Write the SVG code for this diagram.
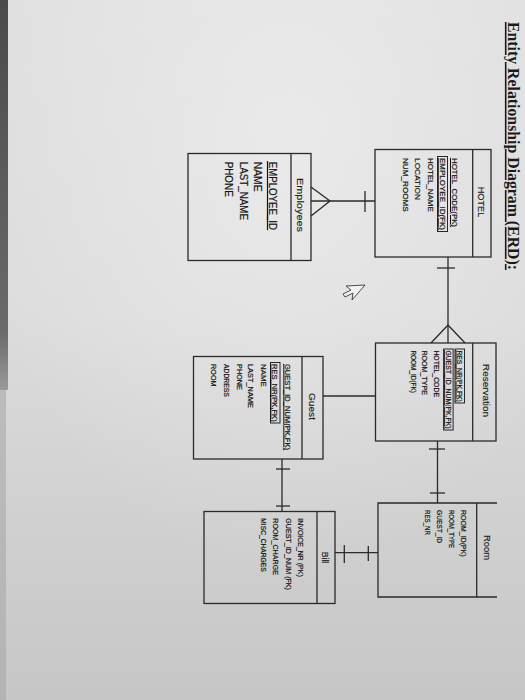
<svg xmlns="http://www.w3.org/2000/svg" width="525" height="700" viewBox="0 0 525 700">
<defs>
<linearGradient id="bg" x1="0" y1="0" x2="0" y2="1">
<stop offset="0" stop-color="#e0e0e0"/>
<stop offset="0.45" stop-color="#dcdcdc"/>
<stop offset="1" stop-color="#c6c6c6"/>
</linearGradient>
<radialGradient id="hl" cx="0.55" cy="0.22" r="0.6">
<stop offset="0" stop-color="#ffffff" stop-opacity="0.35"/>
<stop offset="1" stop-color="#ffffff" stop-opacity="0"/>
</radialGradient>
<linearGradient id="bezel" x1="0" y1="0" x2="0" y2="1">
<stop offset="0" stop-color="#4a4a4a"/>
<stop offset="0.85" stop-color="#6a6a6a"/>
<stop offset="1" stop-color="#9a9a9a"/>
</linearGradient>
<style>
.box{fill:none;stroke:#2a2a2a;stroke-width:1.3}
.ln{fill:none;stroke:#2a2a2a;stroke-width:1.3}
.hd{font-family:"Liberation Sans","Open Sans",sans-serif;fill:#1e1e1e;stroke:#1e1e1e;stroke-width:0.15;text-anchor:middle}
.at{font-family:"Liberation Sans","Open Sans",sans-serif;fill:#141414;stroke:#141414;stroke-width:0.2}
.hlb{fill:none;stroke:#262626;stroke-width:1}
.ttl{font-family:"Liberation Serif",serif;font-weight:bold;fill:#1a1a1a;text-decoration:underline}
</style>
</defs>
<rect x="0" y="0" width="525" height="700" fill="url(#bg)"/>
<rect x="0" y="0" width="525" height="700" fill="url(#hl)"/>
<rect x="0" y="0" width="8" height="390" fill="url(#bezel)"/>
<rect x="0" y="390" width="6" height="310" fill="#a8a8a8" opacity="0.6"/>

<text class="ttl" font-size="16" transform="translate(507.5,22) rotate(90)" textLength="248" lengthAdjust="spacingAndGlyphs">Entity Relationship Diagram (ERD):</text>

<g id="connectors">
<line class="ln" x1="311" y1="201" x2="375" y2="201"/>
<polyline class="ln" points="311,187 330,201 311,216"/>
<line class="ln" x1="365" y1="191" x2="365" y2="212"/>
<line class="ln" x1="448" y1="257" x2="448" y2="343"/>
<line class="ln" x1="437" y1="268" x2="455" y2="268"/>
<polyline class="ln" points="431,343 448,325 465,343"/>
<line class="ln" x1="437.5" y1="441" x2="437.5" y2="503"/>
<line class="ln" x1="429" y1="449" x2="445" y2="449"/>
<line class="ln" x1="430" y1="493" x2="445" y2="493"/>
<line class="ln" x1="323" y1="396" x2="375.5" y2="396"/>
<line class="ln" x1="282" y1="459" x2="282" y2="511.5"/>
<line class="ln" x1="276" y1="469" x2="290" y2="469"/>
<line class="ln" x1="276" y1="506" x2="290" y2="506"/>
<line class="ln" x1="335" y1="552.7" x2="378" y2="552.7"/>
<line class="ln" x1="344.3" y1="545" x2="344.3" y2="563"/>
<line class="ln" x1="368.3" y1="546" x2="368.3" y2="561"/>
</g>

<g id="hotel">
<rect class="box" x="375" y="149.5" width="116" height="107.5"/>
<line class="ln" x1="472.7" y1="149.5" x2="472.7" y2="257"/>
<text class="hd" font-size="9" transform="translate(477.5,202) rotate(90)" textLength="30.6" lengthAdjust="spacingAndGlyphs">HOTEL</text>
<text class="at" font-size="7.5" transform="translate(451.9,158) rotate(90)" textLength="69" lengthAdjust="spacingAndGlyphs" text-decoration="underline">HOTEL_CODE(PK)</text>
<rect class="hlb" x="437.5" y="156.5" width="10" height="75"/>
<text class="at" font-size="7.5" transform="translate(439.7,158) rotate(90)" textLength="72" lengthAdjust="spacingAndGlyphs" text-decoration="underline">EMPLOYEE_ID(FK)</text>
<text class="at" font-size="7.5" transform="translate(427.7,158) rotate(90)" textLength="53.7" lengthAdjust="spacingAndGlyphs">HOTEL_NAME</text>
<text class="at" font-size="7.5" transform="translate(415.2,158) rotate(90)" textLength="42" lengthAdjust="spacingAndGlyphs">LOCATION</text>
<text class="at" font-size="7.5" transform="translate(402.9,158) rotate(90)" textLength="53.7" lengthAdjust="spacingAndGlyphs">NUM_ROOMS</text>
</g>

<g id="employees">
<rect class="box" x="188" y="153.5" width="123" height="107"/>
<line class="ln" x1="291" y1="153.5" x2="291" y2="260.5"/>
<text class="hd" font-size="9.5" transform="translate(297.2,205) rotate(90)" textLength="54" lengthAdjust="spacingAndGlyphs">Employees</text>
<text class="at" font-size="10" transform="translate(269,161.7) rotate(90)" textLength="68.3" lengthAdjust="spacingAndGlyphs" text-decoration="underline">EMPLOYEE_ID</text>
<text class="at" font-size="10" transform="translate(253.8,161.7) rotate(90)" textLength="30" lengthAdjust="spacingAndGlyphs">NAME</text>
<text class="at" font-size="10" transform="translate(239.8,161.7) rotate(90)" textLength="58.3" lengthAdjust="spacingAndGlyphs">LAST_NAME</text>
<text class="at" font-size="10" transform="translate(224.5,161.7) rotate(90)" textLength="35" lengthAdjust="spacingAndGlyphs">PHONE</text>
</g>

<g id="reservation">
<rect class="box" x="375.5" y="343" width="120.5" height="98"/>
<line class="ln" x1="472.7" y1="343" x2="472.7" y2="441"/>
<text class="hd" font-size="9" transform="translate(482.5,390.5) rotate(90)" textLength="53" lengthAdjust="spacingAndGlyphs">Reservation</text>
<rect class="hlb" x="455" y="349" width="9.5" height="54"/>
<text class="at" font-size="7.5" transform="translate(457.4,350.4) rotate(90)" textLength="51.4" lengthAdjust="spacingAndGlyphs" text-decoration="underline">RES_NR(PK,FK)</text>
<rect class="hlb" x="443.6" y="349" width="9.5" height="81"/>
<text class="at" font-size="7.5" transform="translate(446,350.4) rotate(90)" textLength="78.2" lengthAdjust="spacingAndGlyphs" text-decoration="underline">GUEST_ID_NUM(PK,FK)</text>
<text class="at" font-size="7.5" transform="translate(434.4,350.4) rotate(90)" textLength="46.6" lengthAdjust="spacingAndGlyphs">HOTEL_CODE</text>
<text class="at" font-size="7.5" transform="translate(422.4,350.4) rotate(90)" textLength="44.6" lengthAdjust="spacingAndGlyphs">ROOM_TYPE</text>
<text class="at" font-size="7.5" transform="translate(410.9,350.4) rotate(90)" textLength="42.6" lengthAdjust="spacingAndGlyphs">ROOM_ID(FK)</text>
</g>

<g id="guest">
<rect class="box" x="193.5" y="356.5" width="129.5" height="102.5"/>
<line class="ln" x1="302" y1="356.5" x2="302" y2="459"/>
<text class="hd" font-size="9.5" transform="translate(309,406.5) rotate(90)" textLength="27" lengthAdjust="spacingAndGlyphs">Guest</text>
<text class="at" font-size="8" transform="translate(285.2,364) rotate(90)" textLength="86" lengthAdjust="spacingAndGlyphs" text-decoration="underline">GUEST_ID_NUM(PK,FK)</text>
<rect class="hlb" x="270.5" y="362.5" width="9.5" height="60.5"/>
<text class="at" font-size="8" transform="translate(272.2,364) rotate(90)" textLength="57.7" lengthAdjust="spacingAndGlyphs" text-decoration="underline">RES_NR(PK,FK)</text>
<text class="at" font-size="8" transform="translate(260.5,364) rotate(90)" textLength="22.7" lengthAdjust="spacingAndGlyphs">NAME</text>
<text class="at" font-size="8" transform="translate(248.2,364) rotate(90)" textLength="44" lengthAdjust="spacingAndGlyphs">LAST_NAME</text>
<text class="at" font-size="8" transform="translate(236.5,364) rotate(90)" textLength="26" lengthAdjust="spacingAndGlyphs">PHONE</text>
<text class="at" font-size="8" transform="translate(223.9,364) rotate(90)" textLength="32.7" lengthAdjust="spacingAndGlyphs">ADDRESS</text>
<text class="at" font-size="8" transform="translate(210.9,364) rotate(90)" textLength="22.7" lengthAdjust="spacingAndGlyphs">ROOM</text>
</g>

<g id="room">
<polyline class="box" points="497,503 378,503 378,597 497,597"/>
<line class="ln" x1="476.7" y1="503" x2="476.7" y2="597"/>
<text class="hd" font-size="9.5" transform="translate(483.8,547.5) rotate(90)" textLength="25" lengthAdjust="spacingAndGlyphs">Room</text>
<text class="at" font-size="8" transform="translate(460.5,510) rotate(90)" textLength="46.7" lengthAdjust="spacingAndGlyphs">ROOM_ID(PK)</text>
<text class="at" font-size="8" transform="translate(448.9,510) rotate(90)" textLength="38" lengthAdjust="spacingAndGlyphs">ROOM_TYPE</text>
<text class="at" font-size="8" transform="translate(437.2,510) rotate(90)" textLength="33" lengthAdjust="spacingAndGlyphs">GUEST_ID</text>
<text class="at" font-size="8" transform="translate(425.2,510) rotate(90)" textLength="25" lengthAdjust="spacingAndGlyphs">RES_NR</text>
</g>

<g id="bill">
<rect class="box" x="204" y="511.5" width="131" height="92"/>
<line class="ln" x1="317" y1="511.5" x2="317" y2="603.5"/>
<text class="hd" font-size="9.5" transform="translate(322.2,557.5) rotate(90)" textLength="11.6" lengthAdjust="spacingAndGlyphs">Bill</text>
<text class="at" font-size="8" transform="translate(297.5,518.3) rotate(90)" textLength="58.4" lengthAdjust="spacingAndGlyphs">INVOICE_NR (PK)</text>
<text class="at" font-size="8" transform="translate(286.2,518.3) rotate(90)" textLength="71.7" lengthAdjust="spacingAndGlyphs">GUEST_ID_NUM (FK)</text>
<text class="at" font-size="8" transform="translate(273.2,518.3) rotate(90)" textLength="56.7" lengthAdjust="spacingAndGlyphs">ROOM_CHARGE</text>
<text class="at" font-size="8" transform="translate(260.9,518.3) rotate(90)" textLength="53.4" lengthAdjust="spacingAndGlyphs">MISC_CHARGES</text>
</g>

<path d="M365,285 L346,286 L351,290 L343,294 L345,297 L353,293 L352,300 Z" fill="#f2f2f2" stroke="#3a3a3a" stroke-width="0.9"/>
</svg>
